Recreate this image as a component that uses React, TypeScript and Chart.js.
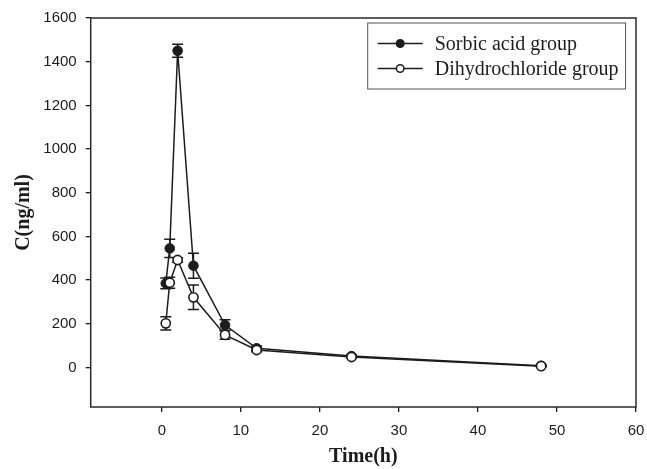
import React, { useEffect, useRef } from "react";
import { Chart, registerables } from "chart.js";

Chart.register(...registerables);

// Data
const times = [0.5, 1, 2, 4, 8, 12, 24, 48];
const sorbicMean = [385, 545, 1450, 466, 194, 88, 52, 8];
const sorbicSD = [25, 42, 30, 57, 25, 10, 6, 3];
const dihydroMean = [202, 388, 492, 321, 149, 80, 48, 6];
const dihydroSD = [30, 25, 10, 56, 20, 8, 5, 3];
const xTicks = [0, 10, 20, 30, 40, 50, 60];
const yTicks = [0, 200, 400, 600, 800, 1000, 1200, 1400, 1600];
const seriesLabels = ["Sorbic acid group", "Dihydrochloride group"];
const xTitle = "Time(h)";
const yTitle = "C(ng/ml)";

const INK = "#1c1c1c";

const errorBarPlugin = {
  id: "errorBars",
  beforeDatasetsDraw(chart: any) {
    const { ctx, scales, chartArea } = chart;
    const xs = scales.x;
    const ys = scales.y;
    ctx.save();
    ctx.strokeStyle = "#2a2a2a";
    ctx.lineWidth = 1.5;
    ctx.strokeRect(chartArea.left, chartArea.top, chartArea.right - chartArea.left, chartArea.bottom - chartArea.top);
    ctx.restore();

    const sets = [
      { mean: sorbicMean, sd: sorbicSD },
      { mean: dihydroMean, sd: dihydroSD },
    ];
    ctx.save();
    ctx.strokeStyle = INK;
    ctx.lineWidth = 1.5;
    sets.forEach((s) => {
      times.forEach((t, i) => {
        const x = xs.getPixelForValue(t);
        const yT = ys.getPixelForValue(s.mean[i] + s.sd[i]);
        const yB = ys.getPixelForValue(s.mean[i] - s.sd[i]);
        const cap = 5.5;
        ctx.beginPath();
        ctx.moveTo(x, yT);
        ctx.lineTo(x, yB);
        ctx.moveTo(x - cap, yT);
        ctx.lineTo(x + cap, yT);
        ctx.moveTo(x - cap, yB);
        ctx.lineTo(x + cap, yB);
        ctx.stroke();
      });
    });
    ctx.restore();
  },
};

const boxLegendPlugin = {
  id: "boxLegend",
  afterDraw(chart: any) {
    const { ctx, chartArea } = chart;
    const left = chartArea.left + 277;
    const top = chartArea.top + 5;
    const rowGap = 25;
    const font = "20px 'Liberation Serif', 'Times New Roman', serif";
    ctx.save();
    ctx.font = font;
    let maxW = 0;
    seriesLabels.forEach((l) => {
      maxW = Math.max(maxW, ctx.measureText(l).width);
    });
    const textX = left + 67;
    const right = textX + maxW + 7;
    const bottom = top + 66;
    ctx.strokeStyle = "#555";
    ctx.lineWidth = 1;
    ctx.strokeRect(left, top, right - left, bottom - top);
    seriesLabels.forEach((label, i) => {
      const y = top + 20.5 + i * rowGap;
      ctx.strokeStyle = INK;
      ctx.lineWidth = 1.5;
      ctx.beginPath();
      ctx.moveTo(left + 10, y);
      ctx.lineTo(left + 55, y);
      ctx.stroke();
      ctx.beginPath();
      ctx.arc(left + 32.5, y, 3.8, 0, Math.PI * 2);
      ctx.fillStyle = i === 0 ? INK : "#ffffff";
      ctx.fill();
      ctx.stroke();
      ctx.fillStyle = INK;
      ctx.textBaseline = "middle";
      ctx.textAlign = "left";
      ctx.fillText(label, textX, y + 1);
    });
    ctx.restore();
  },
};

export default function App() {
  const canvasRef = useRef<HTMLCanvasElement | null>(null);

  useEffect(() => {
    const canvas = canvasRef.current;
    if (!canvas) return;
    const tickFont = { family: "'Liberation Sans', Arial, sans-serif", size: 15 };
    const titleFont = { family: "'Liberation Serif', 'Times New Roman', serif", size: 20, weight: "bold" as const };
    const chart = new Chart(canvas, {
      type: "line",
      data: {
        datasets: [
          {
            label: seriesLabels[1],
            data: times.map((t, i) => ({ x: t, y: dihydroMean[i] })),
            borderColor: INK,
            borderWidth: 1.5,
            backgroundColor: "#ffffff",
            pointBackgroundColor: "#ffffff",
            pointBorderColor: INK,
            pointBorderWidth: 1.6,
            pointRadius: 4.6,
            tension: 0,
            order: 0,
          },
          {
            label: seriesLabels[0],
            data: times.map((t, i) => ({ x: t, y: sorbicMean[i] })),
            borderColor: INK,
            borderWidth: 1.5,
            backgroundColor: INK,
            pointBackgroundColor: INK,
            pointBorderColor: INK,
            pointBorderWidth: 1,
            pointRadius: 4.8,
            tension: 0,
            order: 1,
          },
        ],
      },
      options: {
        responsive: false,
        animation: false,
        layout: { padding: { top: 18, right: 11, left: 0, bottom: 0 } },
        plugins: {
          legend: { display: false },
          tooltip: { enabled: false },
        },
        scales: {
          x: {
            type: "linear",
            position: "bottom",
            min: -9,
            max: 60,
            afterBuildTicks: (s: any) => {
              s.ticks = xTicks.map((v) => ({ value: v }));
            },
            afterFit: (s: any) => {
              s.height = 62;
              s.paddingLeft = 0;
              s.paddingRight = 0;
            },
            grid: {
              display: true,
              drawOnChartArea: false,
              drawTicks: true,
              tickLength: 5,
              color: INK,
              lineWidth: 1.3,
            },
            border: { display: false },
            ticks: {
              font: tickFont,
              color: INK,
              padding: 10,
              maxRotation: 0,
              autoSkip: false,
              callback: (v: any) => String(v),
            },
            title: {
              display: true,
              text: xTitle,
              font: titleFont,
              color: INK,
              padding: { top: 0, bottom: 0 },
            },
          },
          y: {
            type: "linear",
            position: "left",
            min: -181,
            max: 1600,
            afterBuildTicks: (s: any) => {
              s.ticks = yTicks.map((v) => ({ value: v }));
            },
            afterFit: (s: any) => {
              s.width = 90.7;
              s.paddingTop = 0;
              s.paddingBottom = 0;
            },
            grid: {
              display: true,
              drawOnChartArea: false,
              drawTicks: true,
              tickLength: 5,
              color: INK,
              lineWidth: 1.3,
            },
            border: { display: false },
            ticks: {
              font: tickFont,
              color: INK,
              padding: 9,
              autoSkip: false,
              callback: (v: any) => String(v),
            },
            title: {
              display: true,
              text: yTitle,
              font: titleFont,
              color: INK,
              padding: { top: 12, bottom: 0 },
            },
          },
        },
      },
      plugins: [errorBarPlugin, boxLegendPlugin],
    });
    return () => chart.destroy();
  }, []);

  return (
    <div style={{ position: "fixed", left: 0, top: 0, width: 647, height: 469, background: "#fff" }}>
      <canvas ref={canvasRef} width={647} height={469} style={{ width: 647, height: 469, display: "block" }} />
    </div>
  );
}
